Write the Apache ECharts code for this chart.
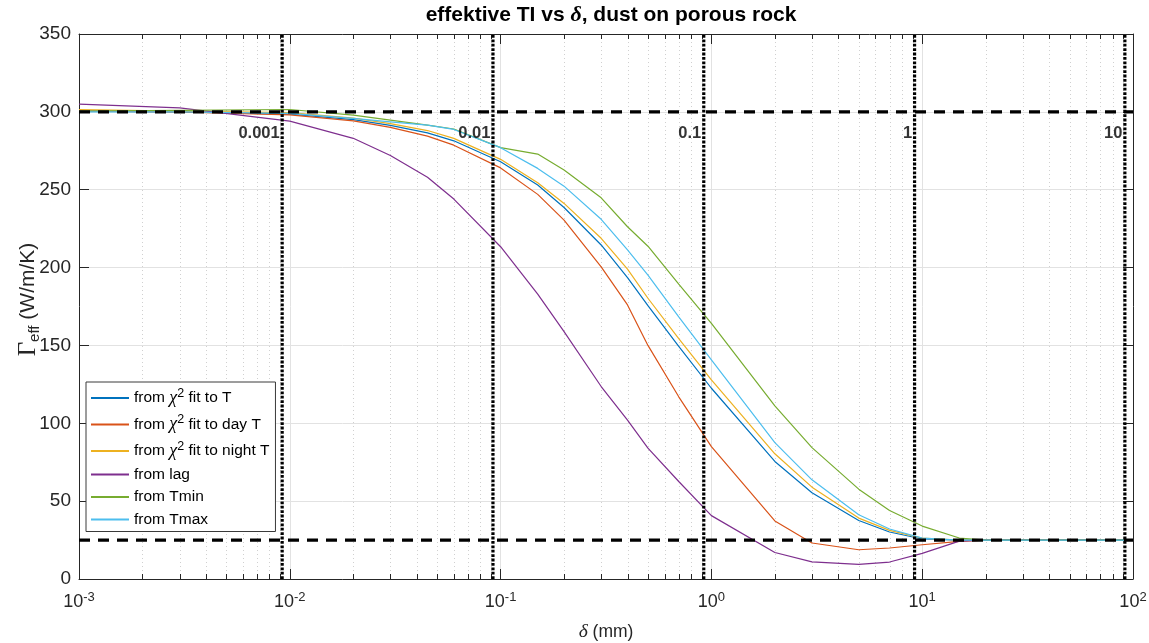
<!DOCTYPE html>
<html>
<head>
<meta charset="utf-8">
<script src="https://cdn.jsdelivr.net/npm/echarts@6.0.0/dist/echarts.min.js"></script>
<style>
  html, body { margin: 0; padding: 0; background: #fff; }
  #myChart { width: 1149px; height: 643px; }
</style>
</head>
<body>
<div id="myChart"></div>
<script>
  // delta (mm) sample positions
  const deltaX = [0.001, 0.003, 0.01, 0.02, 0.03, 0.045, 0.06, 0.1, 0.15, 0.2, 0.3, 0.4, 0.5, 0.7, 1, 2, 3, 5, 7, 10, 15, 20, 50, 100];
  // effective thermal inertia, one array per method
  const fitT      = [300.5, 300, 298.5, 295, 291.3, 286.5, 281.4, 268, 253, 238.6, 214.5, 193.5, 175.5, 149.4, 122.5, 75.5, 55.4, 37.6, 30.2, 25.7, 25, 25, 25, 25];
  const fitDayT   = [300.5, 300, 298, 294.2, 290, 284.4, 278.6, 264, 247, 230.5, 200.5, 176, 150, 117, 85, 37.3, 23.1, 18.8, 19.9, 22, 24.2, 25, 25, 25];
  const fitNightT = [301.5, 300.5, 299.5, 296, 292.5, 288, 283, 269.5, 254.5, 241.2, 218.8, 199, 180.3, 154.4, 127.9, 80.4, 59, 39.1, 31.2, 26.3, 25, 25, 25, 25];
  const fromLag   = [305, 302.5, 294, 283, 272, 258, 244, 213.4, 183, 158.9, 123.6, 102, 84, 62.6, 40.7, 17, 11, 9.4, 10.9, 16.5, 24.3, 25, 25, 25];
  const fromTmin  = [300.5, 301, 301.5, 297.9, 294.7, 291.5, 289, 277, 272.9, 262.6, 244.8, 226.2, 213.7, 189.4, 164.2, 111.2, 84.4, 57.7, 44, 34, 26.3, 25, 25, 25];
  const fromTmax  = [300, 300, 299, 295.8, 293.6, 291.5, 288.7, 277, 263.7, 252.3, 231, 211.3, 195.2, 168.3, 140.7, 87.6, 63.7, 41.3, 32.1, 26.3, 25, 25, 25, 25];

  const seriesNames = ['from chi2 fit to T', 'from chi2 fit to day T', 'from chi2 fit to night T', 'from lag', 'from Tmin', 'from Tmax'];
  const seriesColors = ['#0072BD', '#D95319', '#EDB120', '#7E2F8E', '#77AC30', '#4DBEEE'];
  const seriesData = [fitT, fitDayT, fitNightT, fromLag, fromTmin, fromTmax];

  // reference levels (dashed) and vertical markers (dotted)
  const refLevels = [300, 25];
  const markerX = [0.0092, 0.092, 0.92, 9.2, 91.5];
  const markerText = ['0.001', '0.01', '0.1', '1', '10'];

  // log axis layout
  const xDecades = [0.001, 0.01, 0.1, 1, 10];
  const minorSteps = [2, 3, 4, 5, 6, 7, 8, 9];
  const minorX = [];
  xDecades.forEach(d => minorSteps.forEach(m => minorX.push(d * m)));

  const axisColor = '#262626';
  const gridColor = '#e2e2e2';
  const fontMain = 'Liberation Sans';
  const fontTex = 'Liberation Serif';

  const legendText = {
    'from chi2 fit to T': '{a|from }{x|\u03c7}{s|2}{a| fit to T}',
    'from chi2 fit to day T': '{a|from }{x|\u03c7}{s|2}{a| fit to day T}',
    'from chi2 fit to night T': '{a|from }{x|\u03c7}{s|2}{a| fit to night T}',
    'from lag': '{a|from lag}',
    'from Tmin': '{a|from Tmin}',
    'from Tmax': '{a|from Tmax}'
  };

  let myChart = echarts.init(document.getElementById('myChart'));

  let series = seriesNames.map((name, i) => ({
    name: name,
    type: 'line',
    animation: false,
    symbol: 'none',
    z: 3,
    lineStyle: { width: 1.2, color: seriesColors[i] },
    itemStyle: { color: seriesColors[i] },
    data: deltaX.map((x, j) => [x, seriesData[i][j]])
  }));

  refLevels.forEach(v => {
    series.push({
      type: 'line',
      animation: false,
      silent: true,
      symbol: 'none',
      z: 4,
      lineStyle: { width: 3.2, color: '#000', type: [11, 8] },
      data: [[0.001, v], [100, v]]
    });
  });

  markerX.forEach(x => {
    series.push({
      type: 'line',
      animation: false,
      silent: true,
      symbol: 'none',
      z: 4,
      lineStyle: { width: 3.2, color: '#000', type: [2.8, 1.6] },
      data: [[x, 0], [x, 350]]
    });
  });

  series.push({
    type: 'scatter',
    animation: false,
    silent: true,
    symbolSize: 1,
    itemStyle: { color: 'rgba(0,0,0,0)' },
    z: 5,
    label: {
      show: true,
      position: 'left',
      distance: 2,
      formatter: p => p.value[2],
      fontFamily: fontMain,
      fontWeight: 'bold',
      fontSize: 16.5,
      color: '#000'
    },
    data: markerX.map((x, i) => [x, 286, markerText[i]])
  });

  // minor grid lines and minor ticks of the log axis
  series.push({
    type: 'custom',
    animation: false,
    silent: true,
    z: 1,
    encode: { x: 0, y: 1 },
    data: minorX.map(v => [v, 0]),
    renderItem: function (params, api) {
      let top = api.coord([api.value(0), 350]);
      let bot = api.coord([api.value(0), 0]);
      let px = Math.round(top[0]) + 0.5;
      return {
        type: 'group',
        children: [
          { type: 'line', shape: { x1: px, y1: top[1], x2: px, y2: bot[1] }, style: { stroke: '#d0d0d0', lineWidth: 1, lineDash: [1, 3] } },
          { type: 'line', shape: { x1: px, y1: bot[1], x2: px, y2: bot[1] - 5 }, style: { stroke: axisColor, lineWidth: 1 } },
          { type: 'line', shape: { x1: px, y1: top[1], x2: px, y2: top[1] + 5 }, style: { stroke: axisColor, lineWidth: 1 } }
        ]
      };
    }
  });

  let option = {
    animation: false,
    textStyle: { fontFamily: fontMain },
    title: {
      text: '{t|effektive TI vs }{d|\u03b4}{t|, dust on porous rock}',
      left: 606,
      top: -1,
      textAlign: 'center',
      textStyle: {
        rich: {
          t: { fontFamily: fontMain, fontSize: 21, fontWeight: 'bold', color: '#000' },
          d: { fontFamily: fontTex, fontSize: 22, fontStyle: 'italic', color: '#000' }
        }
      }
    },
    grid: { left: 79, right: 16, top: 34, bottom: 64, containLabel: false, outerBoundsMode: 'none' },
    legend: {
      data: seriesNames,
      orient: 'vertical',
      left: 86,
      top: 382,
      padding: [5, 6, 4, 5],
      itemGap: 6.5,
      itemWidth: 38,
      itemHeight: 2,
      icon: 'rect',
      backgroundColor: '#fff',
      borderColor: '#3a3a3a',
      borderWidth: 1,
      borderRadius: 0,
      formatter: name => legendText[name],
      textStyle: {
        rich: {
          a: { fontFamily: fontMain, fontSize: 15.5, lineHeight: 15, color: '#000' },
          x: { fontFamily: fontTex, fontSize: 18, fontStyle: 'italic', lineHeight: 22, color: '#000' },
          s: { fontFamily: fontMain, fontSize: 12.5, lineHeight: 12, verticalAlign: 'top', color: '#000' }
        }
      }
    },
    xAxis: [{
      type: 'log',
      logBase: 10,
      min: 0.001,
      max: 100,
      position: 'bottom',
      name: '{d|\u03b4}{t| (mm)}',
      nameLocation: 'middle',
      nameMoveOverlap: false,
      nameGap: 43,
      nameTextStyle: {
        rich: {
          t: { fontFamily: fontMain, fontSize: 17.5, color: axisColor },
          d: { fontFamily: fontTex, fontSize: 19.5, fontStyle: 'italic', color: axisColor }
        }
      },
      axisLine: { show: true, onZero: false, lineStyle: { color: axisColor, width: 1 } },
      axisTick: { show: true, inside: true, length: 10, lineStyle: { color: axisColor } },
      axisLabel: {
        margin: 12,
        formatter: v => '{b|10}{e|' + Math.round(Math.log10(v)) + '}',
        rich: {
          b: { fontFamily: fontMain, fontSize: 18, color: axisColor, lineHeight: 22 },
          e: { fontFamily: fontMain, fontSize: 13, color: axisColor, lineHeight: 13, verticalAlign: 'top' }
        }
      },
      splitLine: { show: true, lineStyle: { color: gridColor, width: 1 } }
    }, {
      type: 'log',
      logBase: 10,
      min: 0.001,
      max: 100,
      position: 'top',
      axisLine: { show: true, onZero: false, lineStyle: { color: axisColor, width: 1 } },
      axisTick: { show: true, inside: true, length: 10, lineStyle: { color: axisColor } },
      axisLabel: { show: false },
      splitLine: { show: false }
    }],
    yAxis: [{
      type: 'value',
      min: 0,
      max: 350,
      interval: 50,
      position: 'left',
      name: '{g|\u0393}{e|eff}{t| (W/m/K)}',
      nameLocation: 'middle',
      nameRotate: 90,
      nameMoveOverlap: false,
      nameGap: 37,
      nameTextStyle: {
        padding: [0, 0, 0, 14],
        rich: {
          g: { fontFamily: fontTex, fontSize: 25, color: axisColor, lineHeight: 27 },
          e: { fontFamily: fontMain, fontSize: 15, color: axisColor, lineHeight: 16, verticalAlign: 'bottom' },
          t: { fontFamily: fontMain, fontSize: 21, color: axisColor, lineHeight: 27 }
        }
      },
      axisLine: { show: true, lineStyle: { color: axisColor, width: 1 } },
      axisTick: { show: true, inside: true, length: 10, lineStyle: { color: axisColor } },
      axisLabel: { fontFamily: fontMain, fontSize: 19, color: axisColor, margin: 8 },
      splitLine: { show: true, lineStyle: { color: gridColor, width: 1 } }
    }, {
      type: 'value',
      min: 0,
      max: 350,
      interval: 50,
      position: 'right',
      axisLine: { show: true, lineStyle: { color: axisColor, width: 1 } },
      axisTick: { show: true, inside: true, length: 10, lineStyle: { color: axisColor } },
      axisLabel: { show: false },
      splitLine: { show: false }
    }],
    series: series
  };

  myChart.setOption(option);
</script>
</body>
</html>
